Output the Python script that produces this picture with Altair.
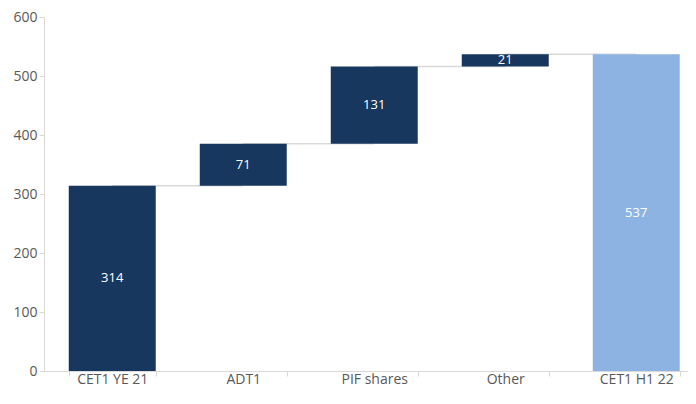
import altair as alt
import pandas as pd

categories = ["CET1 YE 21", "ADT1", "PIF shares", "Other", "CET1 H1 22"]
values = [314, 71, 131, 21, 537]
kinds = ["total", "delta", "delta", "delta", "total"]

rows = []
running = 0
for c, v, k in zip(categories, values, kinds):
    if k == "total":
        start, end = 0, v
        running = v
    else:
        start, end = running, running + v
        running = end
    rows.append({"cat": c, "start": start, "end": end, "mid": (start + end) / 2,
                 "label": str(v), "kind": k})
df = pd.DataFrame(rows)

conn = pd.DataFrame([
    {"cat": categories[i], "cat2": categories[i + 1], "level": df["end"][i]}
    for i in range(len(categories) - 1)
])

xscale = alt.Scale(domain=categories, paddingInner=0.336, paddingOuter=0.126, align=0.75)
xenc = alt.X("cat:N", scale=xscale, sort=categories,
             axis=alt.Axis(title=None, labelAngle=0, tickBand="extent",
                           labelAlign="center", labelFlush=False, labelBound=False,
                           labelFontSize=14, labelColor="#595959",
                           labelFont="Open Sans", domainColor="#d9d9d9",
                           tickColor="#d9d9d9", tickSize=5, labelPadding=3))
yscale = alt.Scale(domain=[0, 600], nice=False)

rules = alt.Chart(conn).mark_rule(color="#d9d9d9", strokeWidth=1.5).encode(
    x=alt.X("cat:N", scale=xscale, sort=categories),
    x2="cat2:N",
    y=alt.Y("level:Q", scale=yscale),
)

bars = alt.Chart(df).mark_bar().encode(
    x=xenc,
    y=alt.Y("start:Q", scale=yscale,
            axis=alt.Axis(title=None, grid=False, values=[0, 100, 200, 300, 400, 500, 600],
                          labelFontSize=14, labelColor="#595959", labelFont="Open Sans",
                          domainColor="#d9d9d9", tickColor="#d9d9d9", tickSize=5)),
    y2="end:Q",
    color=alt.Color("kind:N", scale=alt.Scale(domain=["delta", "total"],
                                               range=["#17375e", "#8db3e2"]), legend=None),
).transform_calculate(kind="datum.cat == 'CET1 H1 22' ? 'total' : 'delta'")

texts = alt.Chart(df).mark_text(color="white", fontSize=13, font="Open Sans",
                                baseline="middle").encode(
    x=alt.X("cat:N", scale=xscale, sort=categories),
    y=alt.Y("mid:Q", scale=yscale),
    text="label:N",
)

chart = alt.layer(rules, bars, texts).properties(
    width=644, height=354,
    autosize=alt.AutoSizeParams(type="none"),
    padding={"left": 36, "top": 9, "right": 0, "bottom": 24},
).configure_view(stroke=None)

chart.save("out.html", embed_options={"renderer": "svg", "actions": False})
